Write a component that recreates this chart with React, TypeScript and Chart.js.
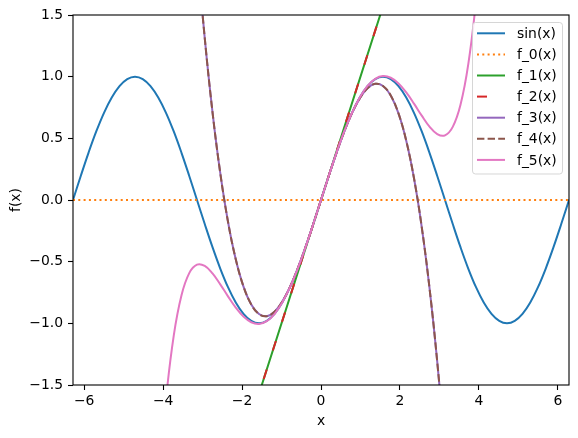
import React, { useEffect, useRef } from "react";
import { Chart, registerables } from "chart.js";

Chart.register(...registerables);

// Sample grid (x = k*pi/16, k = -32..32)
const X = [
  -6.2832, -6.0868, -5.8905, -5.6941, -5.4978, -5.3014, -5.1051, -4.9087, -4.7124, -4.516, -4.3197,
  -4.1233, -3.927, -3.7306, -3.5343, -3.3379, -3.1416, -2.9452, -2.7489, -2.5525, -2.3562, -2.1598,
  -1.9635, -1.7671, -1.5708, -1.3744, -1.1781, -0.9817, -0.7854, -0.589, -0.3927, -0.1963, 0,
  0.1963, 0.3927, 0.589, 0.7854, 0.9817, 1.1781, 1.3744, 1.5708, 1.7671, 1.9635, 2.1598, 2.3562,
  2.5525, 2.7489, 2.9452, 3.1416, 3.3379, 3.5343, 3.7306, 3.927, 4.1233, 4.3197, 4.516, 4.7124,
  4.9087, 5.1051, 5.3014, 5.4978, 5.6941, 5.8905, 6.0868, 6.2832,
];

const SIN = [
  0, 0.1951, 0.3827, 0.5556, 0.7071, 0.8315, 0.9239, 0.9808, 1, 0.9808, 0.9239, 0.8315, 0.7071,
  0.5556, 0.3827, 0.1951, 0, -0.1951, -0.3827, -0.5556, -0.7071, -0.8315, -0.9239, -0.9808, -1,
  -0.9808, -0.9239, -0.8315, -0.7071, -0.5556, -0.3827, -0.1951, 0,
  0.1951, 0.3827, 0.5556, 0.7071, 0.8315, 0.9239, 0.9808, 1, 0.9808, 0.9239, 0.8315, 0.7071,
  0.5556, 0.3827, 0.1951, 0, -0.1951, -0.3827, -0.5556, -0.7071, -0.8315, -0.9239, -0.9808, -1,
  -0.9808, -0.9239, -0.8315, -0.7071, -0.5556, -0.3827, -0.1951, 0,
];

const X0 = [-6.2832, 6.2832];
const F0 = [0, 0];

const X1 = [-2, 2];
const F1 = [-2, 2];
const F2 = [-2, 2];

// k = -17..17
const X3 = X.slice(15, 50);
const F3 = [
  2.8605, 2.0261, 1.3128, 0.7131, 0.2193, -0.1761, -0.4806, -0.7018, -0.8474, -0.9248, -0.9417,
  -0.9056, -0.824, -0.7047, -0.555, -0.3826, -0.1951, 0, 0.1951, 0.3826, 0.555, 0.7047, 0.824,
  0.9056, 0.9417, 0.9248, 0.8474, 0.7018, 0.4806, 0.1761, -0.2193, -0.7131, -1.3128, -2.0261,
  -2.8605,
];
const F4 = F3;

// k = -21..21
const X5 = X.slice(11, 54);
const F5 = [
  -2.3719, -1.6163, -1.0989, -0.7718, -0.5926, -0.5241, -0.534, -0.5949, -0.6837, -0.7812,
  -0.8723, -0.9451, -0.991, -1.0045, -0.9826, -0.9245, -0.8316, -0.7071, -0.5556, -0.3827,
  -0.1951, 0, 0.1951, 0.3827, 0.5556, 0.7071, 0.8316, 0.9245, 0.9826, 1.0045, 0.991, 0.9451,
  0.8723, 0.7812, 0.6837, 0.5949, 0.534, 0.5241, 0.5926, 0.7718, 1.0989, 1.6163, 2.3719,
];

const LABELS = ["sin(x)", "f_0(x)", "f_1(x)", "f_2(x)", "f_3(x)", "f_4(x)", "f_5(x)"];
const COLORS = ["#1f77b4", "#ff7f0e", "#2ca02c", "#d62728", "#9467bd", "#8c564b", "#e377c2"];
const X_TICKS = [-6, -4, -2, 0, 2, 4, 6];
const Y_TICKS = [-1.5, -1.0, -0.5, 0.0, 0.5, 1.0, 1.5];
const X_TITLE = "x";
const Y_TITLE = "f(x)";

const FONT = "DejaVu Sans";
const FS = 13.9;
const LW = 2;

const zip = (xs: number[], ys: number[]) => xs.map((x, i) => ({ x, y: ys[i] }));
const minus = (s: string) => s.replace("-", "\u2212");

const DASHES: number[][] = [[], [2, 3.3], [], [10, 20], [], [7.4, 3.2], []];
const DASH_OFFSETS = [0, 0, 0, 19, 0, 0, 0];

const overlay = {
  id: "overlay",
  afterDraw(chart: any) {
    const ctx = chart.ctx as CanvasRenderingContext2D;
    const a = chart.chartArea;
    ctx.save();
    // frame
    ctx.strokeStyle = "#000";
    ctx.lineWidth = 1.1;
    ctx.setLineDash([]);
    ctx.strokeRect(a.left, a.top, a.right - a.left, a.bottom - a.top);

    // axis titles
    ctx.fillStyle = "#000";
    ctx.font = `${FS}px "${FONT}"`;
    ctx.textAlign = "center";
    ctx.textBaseline = "alphabetic";
    ctx.fillText(X_TITLE, (a.left + a.right) / 2, 425);
    ctx.save();
    ctx.translate(20, (a.top + a.bottom) / 2);
    ctx.rotate(-Math.PI / 2);
    ctx.fillText(Y_TITLE, 0, 0);
    ctx.restore();

    // legend
    const lx = 472.5, ly = 22.5, lw = 90, lh = 151.5, r = 3;
    ctx.beginPath();
    ctx.moveTo(lx + r, ly);
    ctx.lineTo(lx + lw - r, ly);
    ctx.arcTo(lx + lw, ly, lx + lw, ly + r, r);
    ctx.lineTo(lx + lw, ly + lh - r);
    ctx.arcTo(lx + lw, ly + lh, lx + lw - r, ly + lh, r);
    ctx.lineTo(lx + r, ly + lh);
    ctx.arcTo(lx, ly + lh, lx, ly + lh - r, r);
    ctx.lineTo(lx, ly + r);
    ctx.arcTo(lx, ly, lx + r, ly, r);
    ctx.closePath();
    ctx.fillStyle = "rgba(255,255,255,0.8)";
    ctx.fill();
    ctx.strokeStyle = "rgba(204,204,204,0.8)";
    ctx.lineWidth = 1;
    ctx.stroke();

    ctx.textAlign = "left";
    ctx.textBaseline = "middle";
    LABELS.forEach((lab, i) => {
      const cy = 33.3 + i * 21.1;
      ctx.beginPath();
      ctx.strokeStyle = COLORS[i];
      ctx.lineWidth = LW;
      ctx.setLineDash(DASHES[i]);
      ctx.lineDashOffset = 0;
      ctx.moveTo(477, cy);
      ctx.lineTo(505, cy);
      ctx.stroke();
      ctx.setLineDash([]);
      ctx.fillStyle = "#000";
      ctx.fillText(lab, 517, cy + 1);
    });
    ctx.restore();
  },
};

export default function App() {
  const ref = useRef<HTMLCanvasElement>(null);
  useEffect(() => {
    const series = [
      zip(X, SIN),
      zip(X0, F0),
      zip(X1, F1),
      zip(X1, F2),
      zip(X3, F3),
      zip(X3, F4),
      zip(X5, F5),
    ];
    const datasets = series.map((data, i) => ({
      label: LABELS[i],
      data,
      borderColor: COLORS[i],
      backgroundColor: COLORS[i],
      borderWidth: LW,
      borderDash: DASHES[i],
      borderDashOffset: DASH_OFFSETS[i],
      borderCapStyle: DASHES[i].length ? "butt" : "round",
      pointRadius: 0,
      pointHoverRadius: 0,
      fill: false,
      cubicInterpolationMode: "default",
      tension: data.length > 2 ? 0.4 : 0,
      capBezierPoints: false,
      clip: 0,
      order: LABELS.length - i,
    }));
    const tickFont = { family: FONT, size: FS };
    const chart = new Chart(ref.current as HTMLCanvasElement, {
      type: "line",
      data: { datasets } as any,
      options: {
        responsive: false,
        devicePixelRatio: 1,
        animation: false,
        events: [],
        elements: { line: { capBezierPoints: false } },
        layout: { padding: { top: 15, right: 9, left: 0, bottom: 0 } },
        plugins: { legend: { display: false }, tooltip: { enabled: false } },
        scales: {
          x: {
            type: "linear",
            min: -6.2832,
            max: 6.2832,
            afterBuildTicks: (s: any) => {
              s.ticks = X_TICKS.map((v) => ({ value: v }));
            },
            afterFit: (s: any) => {
              s.height = 53;
            },
            ticks: {
              autoSkip: false,
              maxRotation: 0,
              color: "#000",
              font: tickFont,
              padding: 3,
              callback: (v: any) => minus(String(v)),
            },
            grid: {
              display: true,
              drawOnChartArea: false,
              drawTicks: true,
              tickLength: 5,
              tickWidth: 1.1,
              tickColor: "#000",
            },
            border: { display: false },
          },
          y: {
            type: "linear",
            min: -1.5,
            max: 1.5,
            afterBuildTicks: (s: any) => {
              s.ticks = Y_TICKS.map((v) => ({ value: v }));
            },
            afterFit: (s: any) => {
              s.width = 73;
            },
            ticks: {
              autoSkip: false,
              color: "#000",
              font: tickFont,
              padding: 5,
              callback: (v: any) => minus(Number(v).toFixed(1)),
            },
            grid: {
              display: true,
              drawOnChartArea: false,
              drawTicks: true,
              tickLength: 5,
              tickWidth: 1.1,
              tickColor: "#000",
            },
            border: { display: false },
          },
        },
      } as any,
      plugins: [overlay],
    });
    return () => chart.destroy();
  }, []);
  return (
    <div style={{ position: "absolute", left: 0, top: 0, width: 578, height: 438, background: "#fff" }}>
      <canvas ref={ref} width={578} height={438} style={{ width: 578, height: 438, display: "block" }} />
    </div>
  );
}
